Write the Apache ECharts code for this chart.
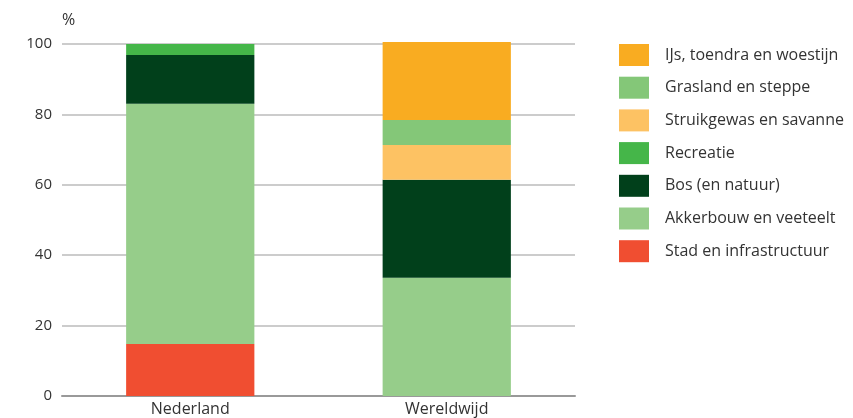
<html lang="nl">
<head>
	<meta charset="utf-8">
	<title>Landgebruik</title>
	<script src="https://cdn.jsdelivr.net/npm/echarts@6/dist/echarts.min.js"></script>
	<style>
		body { margin: 0; background: #fff; }
		#chart { width: 853px; height: 418px; }
	</style>
</head>
<body>
	<div id="chart"></div>
	<script>
		// categorieen en waarden (procent)
		var regions = ["Nederland", "Wereldwijd"];
		var stad = [14.8, null];
		var akkerbouw = [68.2, 33.6];
		var bos = [13.9, 27.8];
		var recreatie = [3.1, null];
		var struikgewas = [null, 9.9];
		var grasland = [null, 7.1];
		var ijs = [null, 22.2];
		var yTicks = [0, 20, 40, 60, 80, 100];

		var names = ["Stad en infrastructuur", "Akkerbouw en veeteelt", "Bos (en natuur)", "Recreatie",
			"Struikgewas en savanne", "Grasland en steppe", "IJs, toendra en woestijn"];
		var values = [stad, akkerbouw, bos, recreatie, struikgewas, grasland, ijs];
		var colors = ["#f04e31", "#96cd8a", "#01401b", "#45b649", "#fdc263", "#84c778", "#f9ac21"];

		var series = [];
		for (var i = 0; i < names.length; i++) {
			series.push({
				name: names[i],
				type: "bar",
				stack: "totaal",
				barWidth: "50%",
				clip: false,
				itemStyle: { color: colors[i] },
				data: values[i]
			});
		}

		var chart = echarts.init(document.getElementById('chart'), null, { renderer: 'canvas' });
		chart.setOption({
			animation: false,
			textStyle: { fontFamily: "Open Sans", color: "#333" },
			grid: { left: 62, right: 278, top: 44, bottom: 22 },
			legend: {
				orient: "vertical",
				left: 619,
				top: 44,
				padding: 0,
				itemWidth: 30,
				itemHeight: 22,
				itemGap: 10.7,
				data: names.slice().reverse(),
				icon: "rect",
				textStyle: { fontSize: 16, color: "#333", padding: [0, 0, 0, 11] }
			},
			xAxis: {
				type: "category",
				data: regions,
				axisTick: { show: false },
				axisLine: { lineStyle: { color: "#999", width: 2 } },
				axisLabel: { fontSize: 16, color: "#333", margin: 5 }
			},
			yAxis: {
				type: "value",
				min: yTicks[0],
				max: yTicks[yTicks.length - 1],
				interval: 20,
				name: "%",
				nameLocation: "end",
				nameGap: 16,
				nameTextStyle: { fontSize: 16, color: "#333", align: "left", padding: [0, 0, 0, 0] },
				axisLabel: { fontSize: 15, color: "#333", margin: 10 },
				axisLine: { show: false },
				axisTick: { show: false },
				splitLine: { lineStyle: { color: "#ccc", width: 2 } }
			},
			series: series
		});
	</script>
</body>
</html>
